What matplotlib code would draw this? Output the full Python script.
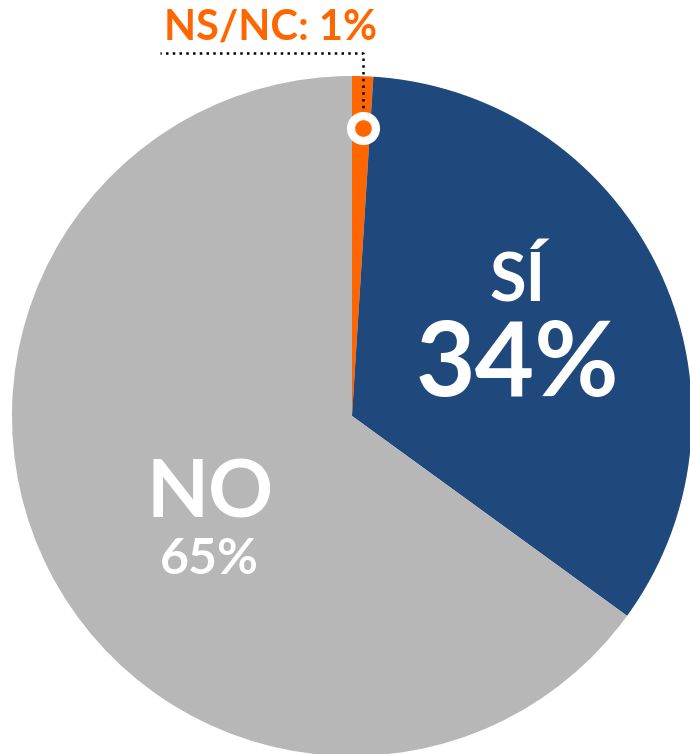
import numpy as np
import matplotlib.pyplot as plt

# survey answers, drawn clockwise from the top
labels = ['NS/NC', 'SÍ', 'NO']
values = [1, 34, 65]
colors = ['#FF6600', '#1F497C', '#B7B7B7']

plt.rcParams['font.family'] = ['Lato', 'DejaVu Sans']

W, H = 690, 754
fig = plt.figure(figsize=(W / 100, H / 100), dpi=100)
ax = fig.add_axes([0, 0, 1, 1])

cx, cy, r = 352, H - 416, 340
wedges, _ = ax.pie(values, colors=colors, startangle=90, counterclock=False,
                   center=(cx, cy), radius=r, frame=True)
ax.set_xlim(0, W)
ax.set_ylim(0, H)
ax.set_aspect('equal')
ax.axis('off')

# small slice callout
theta = np.deg2rad(90 - 360 * values[0] / 100 / 2 - 0.3)
mx = cx + 288 * np.cos(theta)
my = cy + 288 * np.sin(theta)
ly = H - 53
ax.plot([mx, mx, 160], [my, ly, ly], ls=(0, (1, 1.7)), color='black', lw=1.8, zorder=3)
ax.scatter([mx], [my], s=520, color='white', zorder=4)
ax.scatter([mx], [my], s=120, color=colors[0], zorder=5)
ax.text(271, H - 28, f'{labels[0]}: {values[0]}%', color=colors[0], fontsize=30,
        fontweight='bold', ha='center', va='center')

# big slice labels
ax.text(518, H - 282, labels[1], color='white', fontsize=48, fontweight='bold',
        ha='center', va='center')
ax.text(517, H - 366, f'{values[1]}%', color='white', fontsize=74, fontweight='bold',
        ha='center', va='center')
ax.text(210, H - 495, labels[2], color='white', fontsize=58, fontweight='bold',
        ha='center', va='center')
ax.text(209, H - 559, f'{values[2]}%', color='white', fontsize=36, fontweight='bold',
        ha='center', va='center')

fig.savefig('out.png', dpi=100)
